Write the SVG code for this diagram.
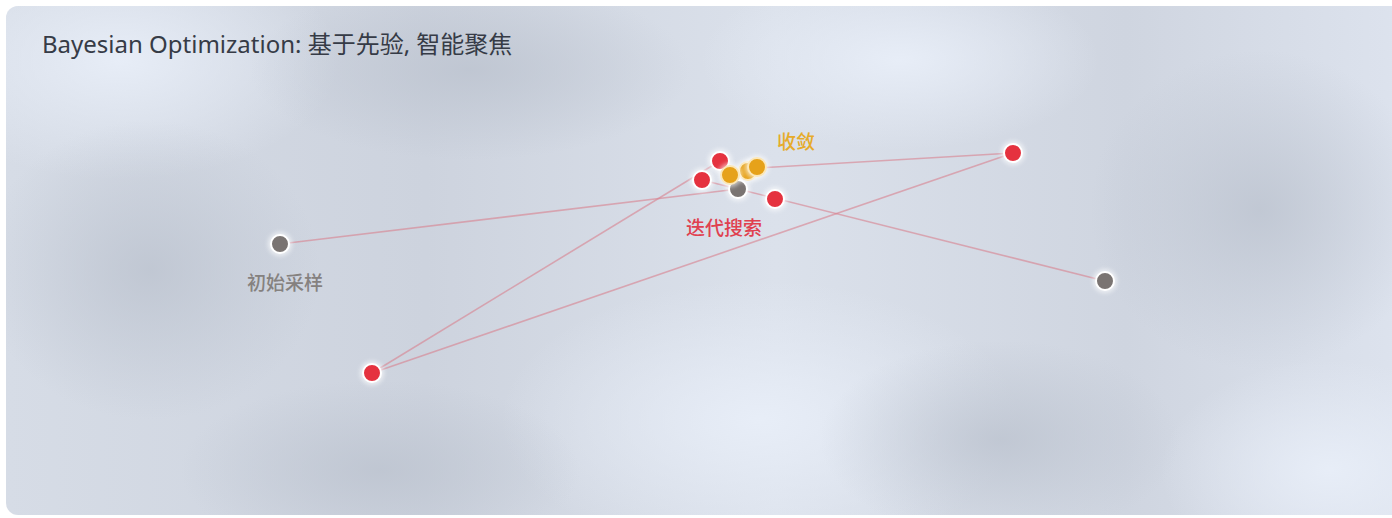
<svg xmlns="http://www.w3.org/2000/svg" width="1392" height="518" viewBox="0 0 1392 518">
<defs>
<linearGradient id="bg" x1="0" y1="0" x2="1" y2="0">
<stop offset="0" stop-color="#d6dce6"/>
<stop offset="0.3" stop-color="#cdd3de"/>
<stop offset="0.55" stop-color="#dbe1eb"/>
<stop offset="0.8" stop-color="#cfd5e0"/>
<stop offset="1" stop-color="#dde3ee"/>
</linearGradient>
<radialGradient id="light" cx="0.5" cy="0.5" r="0.5">
<stop offset="0" stop-color="#e8eef8" stop-opacity="0.95"/>
<stop offset="1" stop-color="#e8eef8" stop-opacity="0"/>
</radialGradient>
<radialGradient id="dark" cx="0.5" cy="0.5" r="0.5">
<stop offset="0" stop-color="#bcc3cf" stop-opacity="0.8"/>
<stop offset="1" stop-color="#bcc3cf" stop-opacity="0"/>
</radialGradient>
<clipPath id="card"><rect x="6" y="6" width="1400" height="509" rx="12"/></clipPath>
<filter id="glow" x="-1" y="-1" width="3" height="3"><feGaussianBlur stdDeviation="2"/></filter>
</defs>
<style>
.title{font-family:"Noto Sans","Noto Sans CJK SC",sans-serif;font-size:24px;fill:#363b46}
.lbl{font-family:"Noto Sans CJK SC","Noto Sans",sans-serif;font-size:19px;font-weight:500;text-anchor:middle}
.edge{stroke:#d8818e;stroke-width:1.6;stroke-opacity:0.6;fill:none}
.halo{fill:#ffffff;opacity:0.6;filter:url(#glow)}
.dot{stroke:#ffffff;stroke-width:2}
.gray{fill:#7a7472}
.red{fill:#e5323f}
.yel{fill:#e6a21a;stroke:#fbe7b8}
</style>
<rect width="1392" height="518" fill="#ffffff"/>
<g clip-path="url(#card)">
<rect x="6" y="6" width="1400" height="509" fill="url(#bg)"/>
<ellipse cx="120" cy="60" rx="220" ry="120" fill="url(#light)"/>
<ellipse cx="150" cy="270" rx="170" ry="150" fill="url(#dark)"/>
<ellipse cx="470" cy="70" rx="220" ry="90" fill="url(#dark)"/>
<ellipse cx="760" cy="420" rx="260" ry="140" fill="url(#light)"/>
<ellipse cx="380" cy="470" rx="200" ry="90" fill="url(#dark)"/>
<ellipse cx="1000" cy="440" rx="180" ry="100" fill="url(#dark)"/>
<ellipse cx="1260" cy="210" rx="170" ry="160" fill="url(#dark)"/>
<ellipse cx="1330" cy="470" rx="170" ry="110" fill="url(#light)"/>
<ellipse cx="900" cy="60" rx="200" ry="90" fill="url(#light)"/>
</g>
<text class="title" x="42" y="53">Bayesian Optimization: 基于先验, 智能聚焦</text>
<g id="connectors">
<line class="edge" x1="280" y1="244" x2="738" y2="189"/>
<line class="edge" x1="372" y1="373" x2="720" y2="161"/>
<line class="edge" x1="372" y1="373" x2="1013" y2="153"/>
<line class="edge" x1="1013" y1="153" x2="757" y2="168"/>
<line class="edge" x1="1105" y1="281" x2="702" y2="180"/>
<line class="edge" x1="720" y1="161" x2="730" y2="175"/>
<line class="edge" x1="730" y1="175" x2="757" y2="168"/>
</g>
<g id="node-init1"><circle class="halo" cx="280" cy="244" r="12"/><circle class="dot gray" cx="280" cy="244" r="9"/></g>
<g id="node-init2"><circle class="halo" cx="1105" cy="281" r="12"/><circle class="dot gray" cx="1105" cy="281" r="9"/></g>
<g id="node-init3"><circle class="halo" cx="738" cy="189" r="12"/><circle class="dot gray" cx="738" cy="189" r="9"/></g>
<g id="node-r1"><circle class="halo" cx="372" cy="373" r="12"/><circle class="dot red" cx="372" cy="373" r="9"/></g>
<g id="node-r2"><circle class="halo" cx="1013" cy="153" r="12"/><circle class="dot red" cx="1013" cy="153" r="9"/></g>
<g id="node-r3"><circle class="halo" cx="702" cy="180" r="12"/><circle class="dot red" cx="702" cy="180" r="9"/></g>
<g id="node-r4"><circle class="halo" cx="720" cy="161" r="12"/><circle class="dot red" cx="720" cy="161" r="9"/></g>
<g id="node-r5"><circle class="halo" cx="775" cy="199" r="12"/><circle class="dot red" cx="775" cy="199" r="9"/></g>
<g id="node-y1"><circle class="halo" cx="748" cy="171" r="12"/><circle class="dot yel" cx="748" cy="171" r="9"/></g>
<g id="node-y2"><circle class="halo" cx="730" cy="175" r="12"/><circle class="dot yel" cx="730" cy="175" r="9"/></g>
<g id="node-y3"><circle class="halo" cx="757" cy="167" r="12"/><circle class="dot yel" cx="757" cy="167" r="9"/></g>
<g id="labels">
<text class="lbl" x="285" y="290" fill="#85817f">初始采样</text>
<text class="lbl" x="724" y="235" fill="#e0404f">迭代搜索</text>
<text class="lbl" x="796" y="149" fill="#e6ab2a">收敛</text>
</g>
</svg>
